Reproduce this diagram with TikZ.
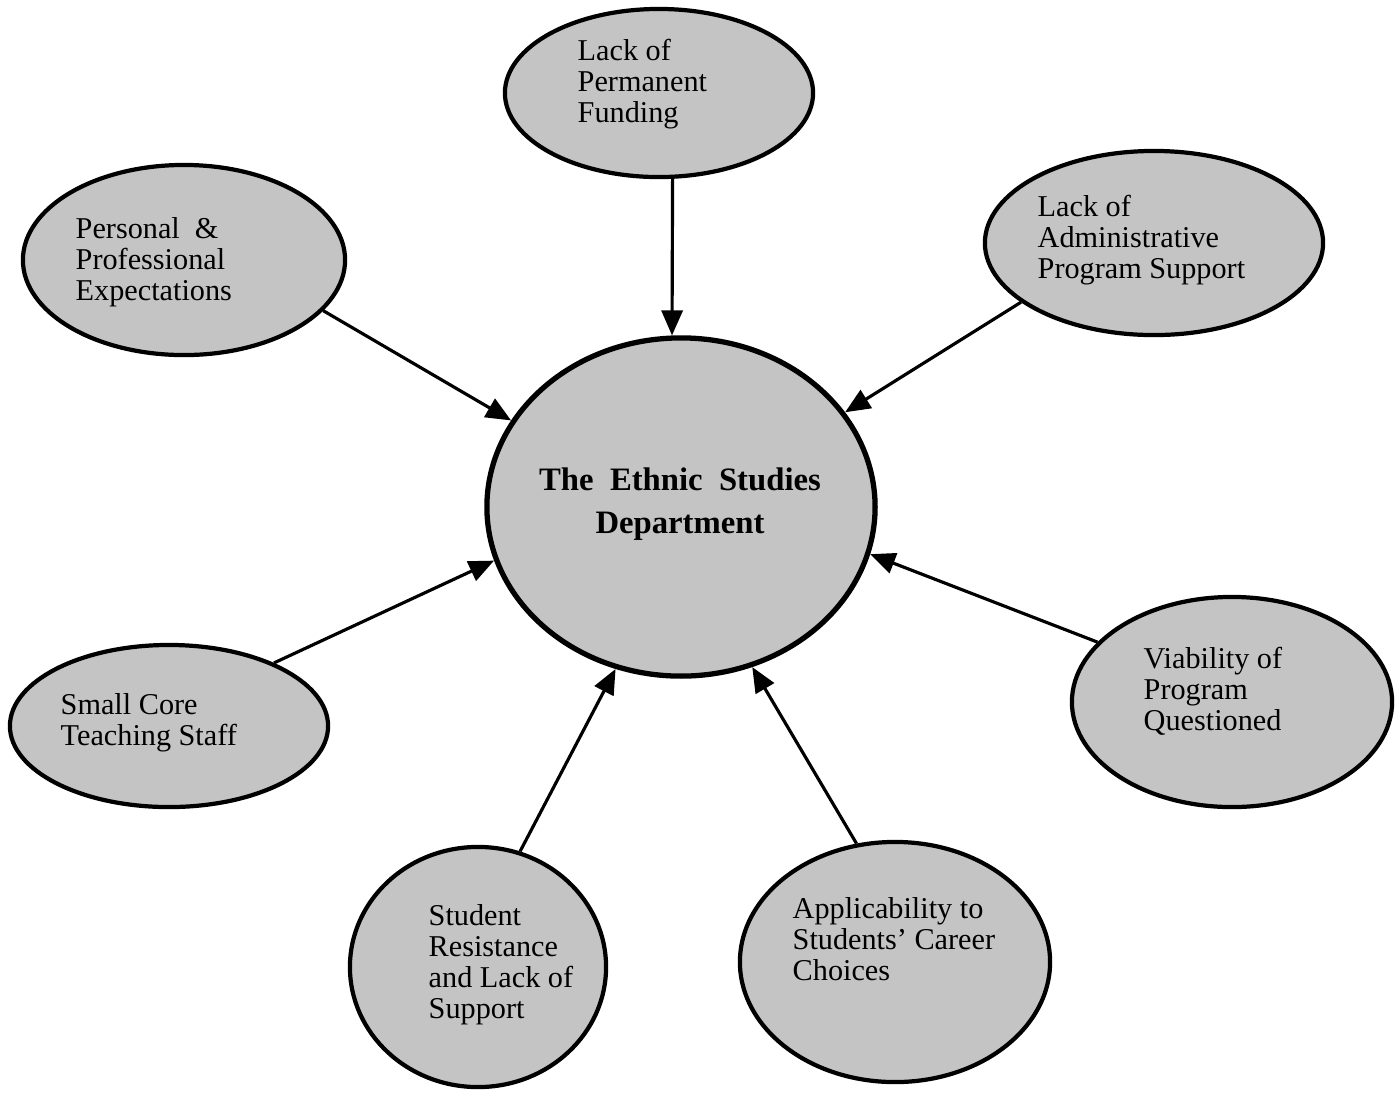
\documentclass[tikz,border=0pt]{standalone}
\usepackage{fontspec}
\setmainfont{Liberation Serif}
\usetikzlibrary{shapes.geometric,arrows.meta}
\definecolor{dotgray}{gray}{0.77}
\tikzset{
  bubble/.style={ellipse, draw=black, line width=1.2pt, fill=dotgray, inner sep=0pt},
  hub/.style={bubble, line width=1.5pt},
  caption/.style={anchor=base west, align=left, inner sep=0pt, font=\fontsize{8.6}{8.8}\selectfont},
  push/.style={line width=0.9pt, -{Triangle[length=2.5mm,width=2.1mm]}}
}

\begin{document}
\begin{tikzpicture}[x=0.01cm, y=-0.01cm]
		%%%%% START %%%%%
		\useasboundingbox (0,0) rectangle (1399,1093);
		
		% centre
		\node[hub, minimum width=3.88cm, minimum height=3.38cm] (dept) at (681,507) {};
		\node[anchor=base, align=center, inner sep=0pt, font=\bfseries\fontsize{9.3}{12.2}\selectfont] (deptname) at (680,533) {The\hspace{.5em}Ethnic\hspace{.5em}Studies\\Department};
		
		% outer bubbles (captions sit on their last baseline)
		\node[bubble, minimum width=3.08cm, minimum height=1.68cm] (fund) at (659,93) {};
		\node[caption] (fundtext) at (577,122) {Lack of\\Permanent\\Funding};
		
		\node[bubble, minimum width=3.22cm, minimum height=1.90cm] (expect) at (184,260) {};
		\node[caption] (expecttext) at (75,300) {Personal\ \ \&\\Professional\\Expectations};
		
		\node[bubble, minimum width=3.38cm, minimum height=1.84cm] (admin) at (1154,243) {};
		\node[caption] (admintext) at (1037,278) {Lack of\\Administrative\\Program Support};
		
		\node[bubble, minimum width=3.18cm, minimum height=1.62cm] (staff) at (169,726) {};
		\node[caption] (stafftext) at (60,745) {Small Core\\Teaching Staff};
		
		\node[bubble, minimum width=3.20cm, minimum height=2.10cm] (viab) at (1232,702) {};
		\node[caption] (viabtext) at (1143,730) {Viability of\\Program\\Questioned};
		
		\node[bubble, minimum width=2.56cm, minimum height=2.40cm] (resist) at (478,967) {};
		\node[caption] (resisttext) at (428,1018) {Student\\Resistance\\and Lack of\\Support};
		
		\node[bubble, minimum width=3.10cm, minimum height=2.40cm] (career) at (895,962) {};
		\node[caption] (careertext) at (792,980) {Applicability to\\Students' Career\\Choices};
		
		% arrows into the centre
		\draw[push] (fund.279) -- (dept.93);
		\draw[push] (expect.340) -- (dept.153);
		\draw[push] (admin.204) -- (dept.30);
		\draw[push] (staff.31) -- (dept.196);
		\draw[push] (viab.156) -- (dept.346);
		\draw[push] (resist.70) -- (dept.248);
		\draw[push] (career.108) -- (dept.294);
		
		%%%%% END %%%%%
\end{tikzpicture}
\end{document}
